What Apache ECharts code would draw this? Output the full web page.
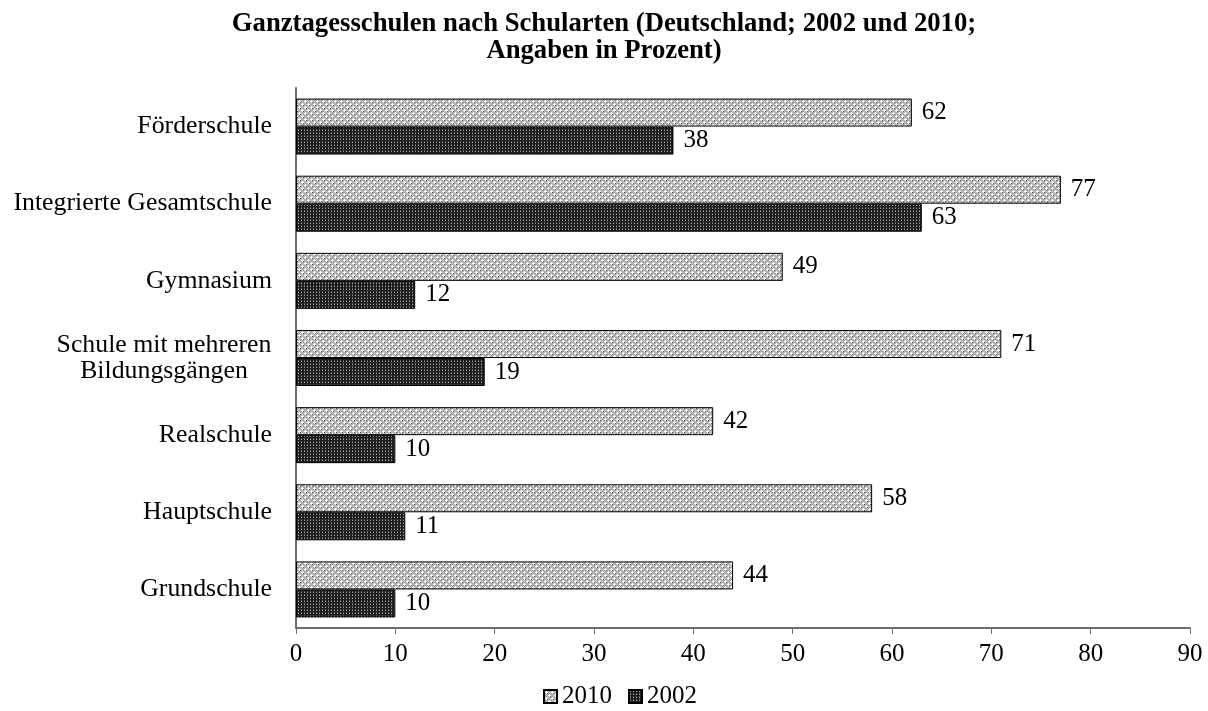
<!DOCTYPE html>
<html>
<head>
<meta charset="utf-8">
<script src="https://cdn.jsdelivr.net/npm/echarts@6/dist/echarts.min.js"></script>
<style>
  html, body { margin: 0; padding: 0; background: #fff; }
  #chart { width: 1208px; height: 711px; }
</style>
</head>
<body>
<div id="chart"></div>
<script>
// School types (top to bottom) and shares of all-day schools in percent
const categories = [
  'Förderschule',
  'Integrierte Gesamtschule',
  'Gymnasium',
  'Schule mit mehreren\nBildungsgängen',
  'Realschule',
  'Hauptschule',
  'Grundschule'
];
const values2010 = [62, 77, 49, 71, 42, 58, 44];
const values2002 = [38, 63, 12, 19, 10, 11, 10];
const xTicks = { min: 0, max: 90, interval: 10 };

// Small repeating fill textures for the two series
function makePattern(size, draw) {
  const c = document.createElement('canvas');
  c.width = size; c.height = size;
  const g = c.getContext('2d');
  draw(g);
  return c;
}
const lightPattern = makePattern(6, g => {
  g.fillStyle = '#b0b0b0'; g.fillRect(0, 0, 6, 6);
  g.fillStyle = '#ffffff';
  g.fillRect(2, 1, 1, 3); g.fillRect(1, 2, 3, 1);
  g.fillRect(5, 4, 1, 3); g.fillRect(4, 5, 3, 1);
  g.fillRect(5, 0, 1, 1); g.fillRect(0, 5, 1, 1);
  g.fillStyle = '#4a4a4a';
  g.fillRect(0, 0, 1, 1); g.fillRect(3, 3, 1, 1);
});
const darkPattern = makePattern(3, g => {
  g.fillStyle = '#1e1e1e'; g.fillRect(0, 0, 3, 3);
  g.fillStyle = '#a8a8a8'; g.fillRect(1, 1, 1, 1);
  g.fillStyle = '#555555'; g.fillRect(1, 0, 1, 1);
});

const serif = '"Liberation Serif", "DejaVu Serif", serif';
const chart = echarts.init(document.getElementById('chart'), null, { renderer: 'canvas' });

const labelStyle = {
  show: true,
  position: 'right',
  distance: 10,
  color: '#000',
  fontFamily: serif,
  fontSize: 25
};

// Multi-line category names are centred line by line, single lines right-aligned
function categoryLabel(v) {
  if (v.indexOf('\n') < 0) return v;
  return v.split('\n').map(line => '{c|' + line + '}').join('\n');
}

chart.setOption({
  animation: false,
  backgroundColor: '#fff',
  title: {
    text: 'Ganztagesschulen nach Schularten (Deutschland; 2002 und 2010;\nAngaben in Prozent)',
    left: 'center',
    top: 6,
    textStyle: {
      fontFamily: serif,
      fontWeight: 'bold',
      fontSize: 26.7,
      lineHeight: 27,
      color: '#000'
    }
  },
  legend: {
    bottom: -3,
    left: 538,
    icon: 'rect',
    itemWidth: 13,
    itemHeight: 13,
    itemGap: 16,
    textStyle: { fontFamily: serif, fontSize: 25, color: '#000' },
    data: ['2010', '2002']
  },
  grid: { left: 296, right: 18, top: 88, bottom: 83, containLabel: false },
  xAxis: {
    type: 'value',
    min: xTicks.min,
    max: xTicks.max,
    interval: xTicks.interval,
    splitLine: { show: false },
    axisLine: { show: true, lineStyle: { color: '#6e6e6e', width: 2 } },
    axisTick: { show: true, length: 6, lineStyle: { color: '#6e6e6e', width: 1 } },
    axisLabel: { fontFamily: serif, fontSize: 25, color: '#000', margin: 14 }
  },
  yAxis: {
    type: 'category',
    inverse: true,
    data: categories,
    axisLine: { show: true, lineStyle: { color: '#6e6e6e', width: 2 } },
    axisTick: { show: false },
    axisLabel: {
      fontFamily: serif,
      fontSize: 25.8,
      color: '#000',
      margin: 24,
      lineHeight: 26,
      formatter: categoryLabel,
      rich: {
        c: {
          fontFamily: serif,
          fontSize: 25.8,
          color: '#000',
          lineHeight: 26,
          width: 216,
          align: 'center'
        }
      }
    }
  },
  series: [
    {
      name: '2010',
      type: 'bar',
      data: values2010,
      barWidth: 28,
      barGap: '0%',
      itemStyle: {
        color: { image: lightPattern, repeat: 'repeat' },
        borderColor: '#000',
        borderWidth: 1
      },
      label: labelStyle
    },
    {
      name: '2002',
      type: 'bar',
      data: values2002,
      barWidth: 28,
      barGap: '0%',
      itemStyle: {
        color: { image: darkPattern, repeat: 'repeat' },
        borderColor: '#000',
        borderWidth: 1
      },
      label: labelStyle
    }
  ]
});
</script>
</body>
</html>
